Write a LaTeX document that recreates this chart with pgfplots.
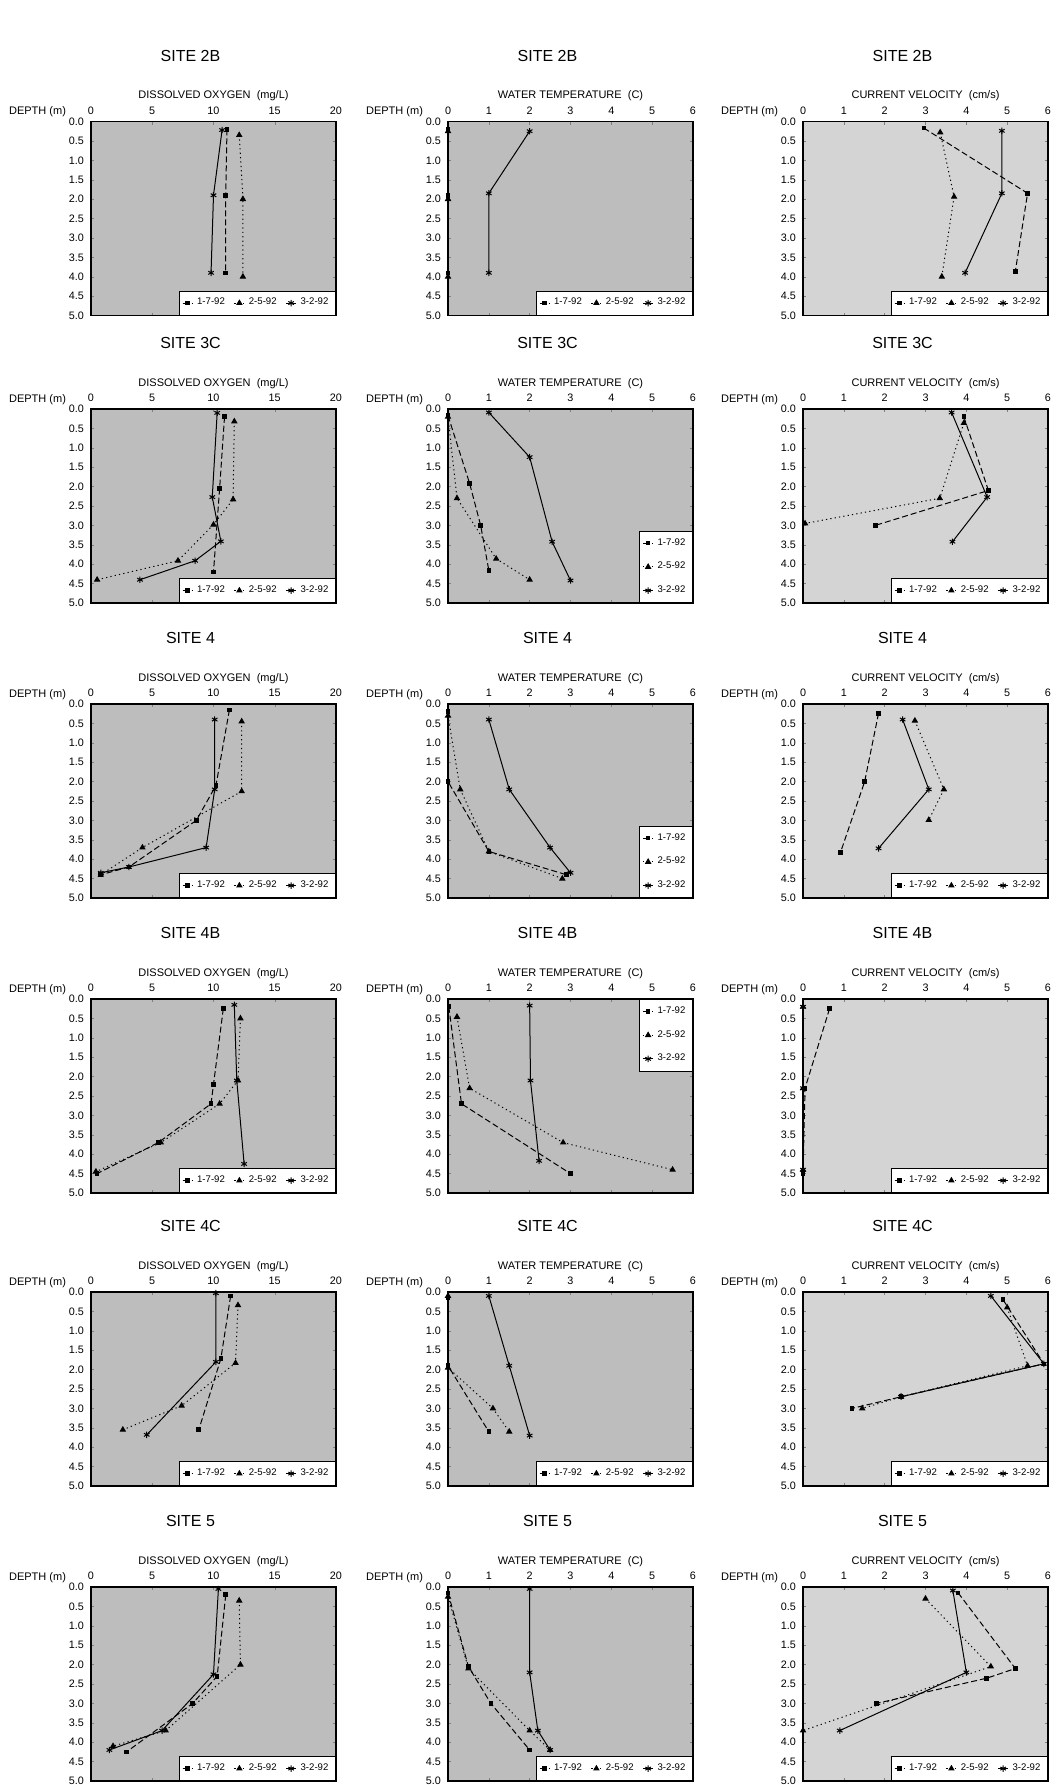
\documentclass[border=0pt]{standalone}
\usepackage{fontspec}
\setmainfont{Liberation Sans}
\usepackage{pgfplots}
\pgfplotsset{compat=1.18}

\pgfplotsset{
  panel/.style={scale only axis, width=122.5pt, height=97pt, anchor=north west,
    y dir=reverse, ymin=0, ymax=5, ytick={0,0.5,...,5},
    xticklabel pos=upper,
    yticklabel style={/pgf/number format/fixed,/pgf/number format/fixed zerofill,/pgf/number format/precision=1},
    /pgf/number format/assume math mode=true,
    ticklabel style={font=\fontsize{5.4}{5.4}\selectfont},
    axis background/.style={fill=black!26},
    axis line style={line width=0.6pt}, major tick length=1.5pt,
    clip=false,
    legend cell align=left,
    legend image code/.code={\draw[##1,mark repeat=2,mark phase=2] plot coordinates {(0pt,0pt) (2.5pt,0pt) (5pt,0pt)};},
    legend style={font=\fontsize{4.8}{5}\selectfont, draw=black, fill=white, inner sep=1.6pt,
      at={(1,0)}, anchor=south east, legend columns=3,
      /tikz/every even column/.append style={column sep=2.5pt}}},
  do/.style={panel, xmin=0, xmax=20, xtick={0,5,...,20}},
  tp/.style={panel, xmin=0, xmax=6, xtick={0,...,6}},
  cv/.style={panel, xmin=0, xmax=6, xtick={0,...,6}, axis background/.style={fill=black!17}},
  vleg/.style={legend style={legend columns=1, row sep=3pt}},
  s1/.style={black, line width=0.5pt, dash pattern=on 3pt off 1.5pt, mark=square*, mark size=0.9pt, mark options={solid}},
  s2/.style={black, line width=0.5pt, dash pattern=on 0.6pt off 1.6pt, mark=triangle*, mark size=1.4pt, mark options={solid}},
  s3/.style={black, line width=0.5pt, mark=asterisk, mark size=1.6pt, mark options={solid}},
}

% labels around one panel: left, top, site, variable
\newcommand{\paneltext}[4]{%
  \node[font=\fontsize{8}{9}\selectfont] at ({#1+49.75pt},{#2+33pt}) {#3};
  \node[font=\fontsize{5.5}{6}\selectfont] at ({#1+61.25pt},{#2+12.75pt}) {#4};
  \node[font=\fontsize{5.5}{6}\selectfont,anchor=east] at ({#1-9pt},{#2+4.75pt}) {DEPTH (m)};
}

\begin{document}
\begin{tikzpicture}
\useasboundingbox (0,0) rectangle (528pt,-892.5pt);

% ---------- SITE 2B ----------
\paneltext{45.5pt}{-60.75pt}{SITE 2B}{DISSOLVED OXYGEN\ \ (mg/L)}
\paneltext{224pt}{-60.75pt}{SITE 2B}{WATER TEMPERATURE\ \ (C)}
\paneltext{401.5pt}{-60.75pt}{SITE 2B}{CURRENT VELOCITY\ \ (cm/s)}
\begin{axis}[do, at={(45.5pt,-60.75pt)}]
\addplot[s1] coordinates {(11.1,0.2) (11.0,1.9) (11.0,3.9)};
\addplot[s2] coordinates {(12.1,0.35) (12.4,2.0) (12.4,4.0)};
\addplot[s3] coordinates {(10.7,0.22) (10.0,1.9) (9.8,3.9)};
\legend{1-7-92,2-5-92,3-2-92}
\end{axis}
\begin{axis}[tp, at={(224pt,-60.75pt)}]
\addplot[s1] coordinates {(0,0.2) (0,1.9) (0,3.9)};
\addplot[s2] coordinates {(0,0.25) (0,2.0) (0,4.0)};
\addplot[s3] coordinates {(2.0,0.25) (1.0,1.85) (1.0,3.9)};
\legend{1-7-92,2-5-92,3-2-92}
\end{axis}
\begin{axis}[cv, at={(401.5pt,-60.75pt)}]
\addplot[s1] coordinates {(2.96,0.17) (5.5,1.85) (5.2,3.86)};
\addplot[s2] coordinates {(3.36,0.28) (3.7,1.94) (3.4,4.0)};
\addplot[s3] coordinates {(4.87,0.24) (4.87,1.85) (3.97,3.9)};
\legend{1-7-92,2-5-92,3-2-92}
\end{axis}

% ---------- SITE 3C ----------
\paneltext{45.5pt}{-204.5pt}{SITE 3C}{DISSOLVED OXYGEN\ \ (mg/L)}
\paneltext{224pt}{-204.5pt}{SITE 3C}{WATER TEMPERATURE\ \ (C)}
\paneltext{401.5pt}{-204.5pt}{SITE 3C}{CURRENT VELOCITY\ \ (cm/s)}
\begin{axis}[do, at={(45.5pt,-204.5pt)}]
\addplot[s1] coordinates {(10.9,0.2) (10.5,2.05) (10.0,4.2)};
\addplot[s2] coordinates {(11.7,0.32) (11.6,2.33) (10.0,2.98) (7.1,3.91) (0.5,4.4)};
\addplot[s3] coordinates {(10.3,0.1) (9.9,2.27) (10.6,3.41) (8.5,3.91) (4.0,4.4)};
\legend{1-7-92,2-5-92,3-2-92}
\end{axis}
\begin{axis}[tp, vleg, at={(224pt,-204.5pt)}]
\addplot[s1] coordinates {(0,0.17) (0.53,1.92) (0.8,3.0) (1.0,4.16)};
\addplot[s2] coordinates {(0,0.2) (0.22,2.3) (1.18,3.86) (2.0,4.4)};
\addplot[s3] coordinates {(1.0,0.09) (2.0,1.24) (2.55,3.42) (3.0,4.42)};
\legend{1-7-92,2-5-92,3-2-92}
\end{axis}
\begin{axis}[cv, at={(401.5pt,-204.5pt)}]
\addplot[s1] coordinates {(3.94,0.2) (4.54,2.1) (1.77,3.0)};
\addplot[s2] coordinates {(3.94,0.36) (3.35,2.3) (0.05,2.95)};
\addplot[s3] coordinates {(3.64,0.09) (4.51,2.27) (3.66,3.42)};
\legend{1-7-92,2-5-92,3-2-92}
\end{axis}

% ---------- SITE 4 ----------
\paneltext{45.5pt}{-352pt}{SITE 4}{DISSOLVED OXYGEN\ \ (mg/L)}
\paneltext{224pt}{-352pt}{SITE 4}{WATER TEMPERATURE\ \ (C)}
\paneltext{401.5pt}{-352pt}{SITE 4}{CURRENT VELOCITY\ \ (cm/s)}
\begin{axis}[do, at={(45.5pt,-352pt)}]
\addplot[s1] coordinates {(11.3,0.15) (10.2,2.1) (8.6,3.0) (3.1,4.2) (0.8,4.4)};
\addplot[s2] coordinates {(12.3,0.45) (12.3,2.25) (4.2,3.7) (0.8,4.4)};
\addplot[s3] coordinates {(10.1,0.4) (10.1,2.2) (9.4,3.7) (3.1,4.2) (0.8,4.35)};
\legend{1-7-92,2-5-92,3-2-92}
\end{axis}
\begin{axis}[tp, vleg, at={(224pt,-352pt)}]
\addplot[s1] coordinates {(0,0.2) (0,2.0) (1.0,3.8) (2.9,4.4)};
\addplot[s2] coordinates {(0,0.3) (0.3,2.2) (1.0,3.8) (2.8,4.5)};
\addplot[s3] coordinates {(1.0,0.4) (1.5,2.2) (2.5,3.7) (3.0,4.35)};
\legend{1-7-92,2-5-92,3-2-92}
\end{axis}
\begin{axis}[cv, at={(401.5pt,-352pt)}]
\addplot[s1] coordinates {(1.85,0.24) (1.51,2.0) (0.92,3.82)};
\addplot[s2] coordinates {(2.74,0.43) (3.45,2.2) (3.08,2.99)};
\addplot[s3] coordinates {(2.44,0.4) (3.08,2.2) (1.85,3.72)};
\legend{1-7-92,2-5-92,3-2-92}
\end{axis}

% ---------- SITE 4B ----------
\paneltext{45.5pt}{-499.5pt}{SITE 4B}{DISSOLVED OXYGEN\ \ (mg/L)}
\paneltext{224pt}{-499.5pt}{SITE 4B}{WATER TEMPERATURE\ \ (C)}
\paneltext{401.5pt}{-499.5pt}{SITE 4B}{CURRENT VELOCITY\ \ (cm/s)}
\begin{axis}[do, at={(45.5pt,-499.5pt)}]
\addplot[s1] coordinates {(10.8,0.25) (10.0,2.2) (9.8,2.7) (5.5,3.7) (0.5,4.5)};
\addplot[s2] coordinates {(12.2,0.5) (12.0,2.1) (10.5,2.7) (5.7,3.7) (0.4,4.45)};
\addplot[s3] coordinates {(11.7,0.15) (11.9,2.1) (12.5,4.25)};
\legend{1-7-92,2-5-92,3-2-92}
\end{axis}
\begin{axis}[tp, vleg, at={(224pt,-499.5pt)}, legend style={at={(1,1)}, anchor=north east}]
\addplot[s1] coordinates {(0.02,0.2) (0.33,2.7) (3.0,4.5)};
\addplot[s2] coordinates {(0.22,0.46) (0.53,2.3) (2.82,3.7) (5.5,4.4)};
\addplot[s3] coordinates {(2.0,0.17) (2.02,2.1) (2.23,4.17)};
\legend{1-7-92,2-5-92,3-2-92}
\end{axis}
\begin{axis}[cv, at={(401.5pt,-499.5pt)}]
\addplot[s1] coordinates {(0.65,0.25) (0.05,2.3) (0,4.5)};
\addplot[s2] coordinates {(0,0.2) (0,2.3) (0,4.4)};
\addplot[s3] coordinates {(0,0.2) (0,2.3) (0,4.4)};
\legend{1-7-92,2-5-92,3-2-92}
\end{axis}

% ---------- SITE 4C ----------
\paneltext{45.5pt}{-646pt}{SITE 4C}{DISSOLVED OXYGEN\ \ (mg/L)}
\paneltext{224pt}{-646pt}{SITE 4C}{WATER TEMPERATURE\ \ (C)}
\paneltext{401.5pt}{-646pt}{SITE 4C}{CURRENT VELOCITY\ \ (cm/s)}
\begin{axis}[do, at={(45.5pt,-646pt)}]
\addplot[s1] coordinates {(11.4,0.1) (10.6,1.72) (8.8,3.55)};
\addplot[s2] coordinates {(12.0,0.34) (11.8,1.83) (7.4,2.93) (2.6,3.55)};
\addplot[s3] coordinates {(10.2,0.03) (10.2,1.8) (4.55,3.68)};
\legend{1-7-92,2-5-92,3-2-92}
\end{axis}
\begin{axis}[tp, at={(224pt,-646pt)}]
\addplot[s1] coordinates {(0,0.15) (0,1.9) (1.0,3.6)};
\addplot[s2] coordinates {(0,0.1) (0,1.95) (1.1,3.0) (1.5,3.6)};
\addplot[s3] coordinates {(1.0,0.1) (1.5,1.9) (2.0,3.7)};
\legend{1-7-92,2-5-92,3-2-92}
\end{axis}
\begin{axis}[cv, at={(401.5pt,-646pt)}]
\addplot[s1] coordinates {(4.9,0.2) (5.9,1.85) (2.4,2.7) (1.2,3.0)};
\addplot[s2] coordinates {(5.0,0.4) (5.5,1.9) (2.4,2.7) (1.45,3.0)};
\addplot[s3] coordinates {(4.6,0.1) (5.9,1.85) (2.4,2.7)};
\legend{1-7-92,2-5-92,3-2-92}
\end{axis}

% ---------- SITE 5 ----------
\paneltext{45.5pt}{-793.5pt}{SITE 5}{DISSOLVED OXYGEN\ \ (mg/L)}
\paneltext{224pt}{-793.5pt}{SITE 5}{WATER TEMPERATURE\ \ (C)}
\paneltext{401.5pt}{-793.5pt}{SITE 5}{CURRENT VELOCITY\ \ (cm/s)}
\begin{axis}[do, at={(45.5pt,-793.5pt)}]
\addplot[s1] coordinates {(11.0,0.2) (10.3,2.3) (8.3,3.0) (2.9,4.25)};
\addplot[s2] coordinates {(12.1,0.35) (12.2,2.0) (6.1,3.7) (1.8,4.1)};
\addplot[s3] coordinates {(10.4,0.05) (10.0,2.25) (5.8,3.7) (1.5,4.2)};
\legend{1-7-92,2-5-92,3-2-92}
\end{axis}
\begin{axis}[tp, at={(224pt,-793.5pt)}]
\addplot[s1] coordinates {(0,0.15) (0.5,2.05) (1.05,3.0) (2.0,4.2)};
\addplot[s2] coordinates {(0,0.25) (0.5,2.1) (2.0,3.7) (2.5,4.2)};
\addplot[s3] coordinates {(2.0,0.05) (2.0,2.2) (2.2,3.7) (2.5,4.2)};
\legend{1-7-92,2-5-92,3-2-92}
\end{axis}
\begin{axis}[cv, at={(401.5pt,-793.5pt)}]
\addplot[s1] coordinates {(3.8,0.15) (5.2,2.1) (4.5,2.35) (1.8,3.0)};
\addplot[s2] coordinates {(3.0,0.3) (4.6,2.05) (0.0,3.7)};
\addplot[s3] coordinates {(3.67,0.09) (4.0,2.2) (0.9,3.7)};
\legend{1-7-92,2-5-92,3-2-92}
\end{axis}
\end{tikzpicture}
\end{document}
